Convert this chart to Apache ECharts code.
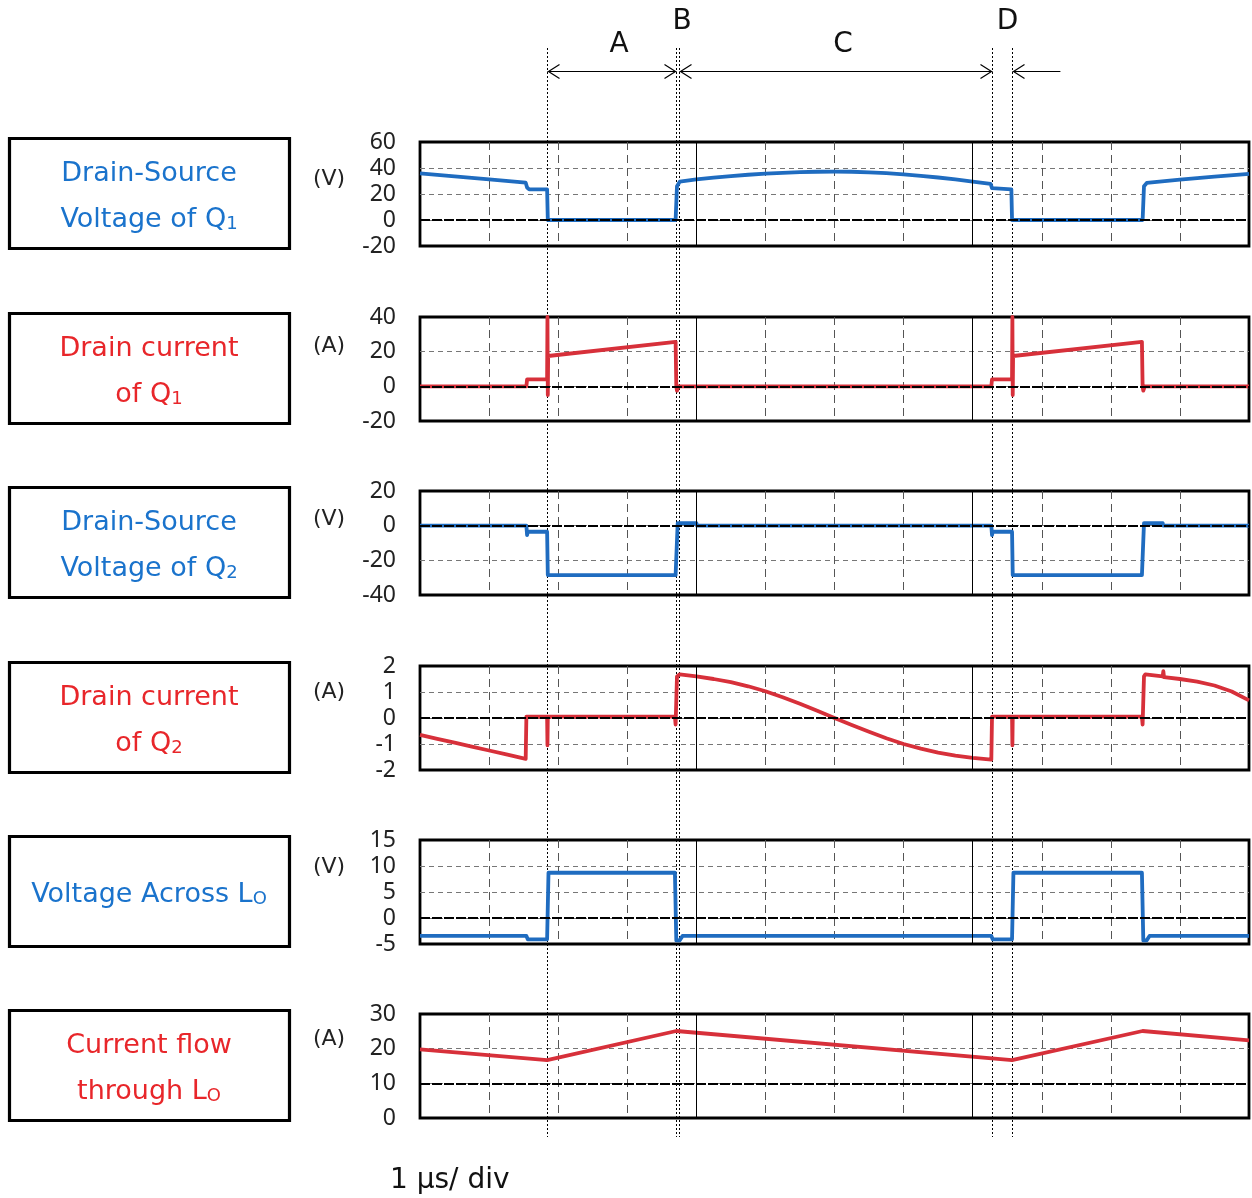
<!DOCTYPE html>
<html><head><meta charset="utf-8">
<script src="https://cdn.jsdelivr.net/npm/echarts@6/dist/echarts.min.js"></script>
<style>html,body{margin:0;padding:0;background:#fff}#c{width:1252px;height:1198px}</style>
</head><body><div id="c"></div>
<script>
// ---- data (time in µs, 1 µs/div) ----
const vdsQ1 = [[0,35.9],[0.5,33.6],[1.0,31.3],[1.53,28.7],[1.55,25],[1.58,23.6],[1.84,23.6],[1.85,0],[3.70,0],[3.72,26],[3.76,29.5],[4.0,31.2],[4.25,32.6],[4.5,33.8],[4.75,34.8],[5.0,35.6],[5.25,36.3],[5.5,36.8],[5.75,37.1],[6.0,37.2],[6.25,37.1],[6.5,36.7],[6.75,36],[7.0,35.1],[7.25,34],[7.5,32.7],[7.75,31.2],[8.0,29.6],[8.26,27.8],[8.28,24.5],[8.30,23.6],[8.56,23.6],[8.57,0],[10.46,0],[10.48,26],[10.52,28.5],[11.0,31],[11.5,33.3],[12,35.4]];
const idQ1 = [[0,0],[1.54,0],[1.55,4],[1.84,4],[1.845,40],[1.85,-5],[1.855,17.5],[3.70,25.7],[3.71,0],[3.72,-2.5],[3.74,0],[8.27,0],[8.28,4],[8.57,4],[8.575,40],[8.58,-5],[8.585,17.5],[10.45,25.7],[10.46,0],[10.47,-2.5],[10.49,0],[12,0]];
const vdsQ2 = [[0,0],[1.54,0],[1.55,-5.5],[1.56,-3.5],[1.84,-3.5],[1.85,-28.5],[3.70,-28.5],[3.73,1.5],[4.0,1.5],[4.01,0],[8.27,0],[8.28,-5.5],[8.29,-3.5],[8.57,-3.5],[8.58,-28.5],[10.45,-28.5],[10.48,1.5],[10.75,1.5],[10.76,0],[12,0]];
const idQ2 = [[0,-0.65],[0.25,-0.8],[0.5,-0.95],[0.75,-1.1],[1.0,-1.25],[1.25,-1.4],[1.53,-1.57],[1.54,0.05],[1.84,0.05],[1.845,-1.05],[1.85,0.05],[3.69,0.05],[3.70,-0.25],[3.72,1.6],[3.76,1.68],[4.0,1.6],[4.25,1.5],[4.5,1.38],[4.75,1.22],[5.0,1.03],[5.25,0.8],[5.5,0.55],[5.75,0.28],[6.0,0.0],[6.25,-0.27],[6.5,-0.53],[6.75,-0.78],[7.0,-1.0],[7.25,-1.18],[7.5,-1.33],[7.75,-1.45],[8.0,-1.53],[8.27,-1.6],[8.28,0.05],[8.57,0.05],[8.575,-1.05],[8.58,0.05],[10.45,0.05],[10.46,-0.25],[10.48,1.6],[10.5,1.68],[10.75,1.6],[10.76,1.8],[10.77,1.57],[11.0,1.5],[11.25,1.4],[11.5,1.25],[11.75,1.02],[12,0.68]];
const vLo = [[0,-3.45],[1.54,-3.45],[1.56,-4.1],[1.84,-4.1],[1.86,8.7],[3.69,8.7],[3.71,-4.3],[3.76,-4.3],[3.80,-3.45],[8.27,-3.45],[8.29,-4.1],[8.57,-4.1],[8.59,8.7],[10.45,8.7],[10.47,-4.3],[10.52,-4.3],[10.56,-3.45],[12,-3.45]];
const iLo = [[0,19.8],[1.84,16.7],[3.71,25.1],[8.57,16.7],[10.46,25.1],[12,22.4]];

const yMin = [-20,-20,-40,-2,-5,0];
const yMax = [60,40,20,2,15,30];
const yStep = [20,20,20,1,5,10];
const refLevel = [0,0,0,0,0,10];
const units = ['(V)','(A)','(V)','(A)','(V)','(A)'];
const labelLines = [
  [['Drain-Source',''],['Voltage of Q','1']],
  [['Drain current',''],['of Q','1']],
  [['Drain-Source',''],['Voltage of Q','2']],
  [['Drain current',''],['of Q','2']],
  [['Voltage Across L','O']],
  [['Current flow',''],['through L','O']]
];
const eventTimes = [1.84, 3.70, 3.75, 8.28, 8.57];
const spanLabels = ['A','B','C','D'];
const timeBaseLabel = '1 µs/ div';

// ---- layout / styles ----
const BLUE='#1f6cc0', RED='#d7303a', TBLUE='#1a73cc', TRED='#e8262a';
const kinds = ['b','r','b','r','b','r'];
const seriesData = [vdsQ1,idQ1,vdsQ2,idQ2,vLo,iLo];
const tops = [142,317,491,666,840,1014];
const unitOff = [37,29,28,26,27,25];
const FONT = 'DejaVu Sans';
const GL = 420, GW = 829, GH = 104;

const grid=[], xAxis=[], yAxis=[], series=[];
for (let i=0;i<6;i++){
  grid.push({left:GL, top:tops[i], width:GW, height:GH, show:true, borderColor:'#000', borderWidth:2.8, backgroundColor:'transparent'});
  xAxis.push({gridIndex:i, type:'value', min:0, max:12, interval:1,
    axisLine:{show:false}, axisTick:{show:false}, axisLabel:{show:false},
    splitLine:{show:true, showMinLine:false, showMaxLine:false, lineStyle:{color:'#555', type:[8,5], width:1}}});
  yAxis.push({gridIndex:i, type:'value', min:yMin[i], max:yMax[i], interval:yStep[i],
    axisLine:{show:false}, axisTick:{show:false},
    axisLabel:{fontSize:23, color:'#222', margin:24, fontFamily:'Noto Sans', showMinLabel:true, showMaxLabel:true},
    splitLine:{show:true, showMinLine:false, showMaxLine:false, lineStyle:{color:'#777', type:[5,4], width:1.2}}});
  series.push({type:'line', xAxisIndex:i, yAxisIndex:i, data:[], z:1, silent:true, animation:false,
    markLine:{silent:true, symbol:'none', animation:false, label:{show:false},
      data:[
        {yAxis:refLevel[i], lineStyle:{color:'#000', width:2, type:[10,2]}},
        {xAxis:4, lineStyle:{color:'#000', width:1, type:'solid'}},
        {xAxis:8, lineStyle:{color:'#000', width:1, type:'solid'}}
      ]}});
  series.push({type:'line', xAxisIndex:i, yAxisIndex:i, data:seriesData[i], showSymbol:false, z:3, animation:false,
    lineStyle:{color:kinds[i]==='b'?BLUE:RED, width:3.8, join:'round'}});
}

const chart = echarts.init(document.getElementById('c'));
chart.setOption({animation:false, grid, xAxis, yAxis, series});

const px = t => chart.convertToPixel({xAxisIndex:0}, t);
const g = [];
for (let i=0;i<6;i++){
  const top = tops[i];
  const col = kinds[i]==='b'?TBLUE:TRED;
  g.push({type:'rect', shape:{x:9.5, y:top-3.5, width:280, height:110}, style:{fill:'none', stroke:'#000', lineWidth:3.2}, silent:true});
  const lines = labelLines[i];
  const centers = lines.length===1 ? [top+55] : [top+32, top+78];
  lines.forEach((ln,k)=>{
    const txt = ln[1] ? '{m|'+ln[0]+'}{s|'+ln[1]+'}' : '{m|'+ln[0]+'}';
    g.push({type:'text', x:149, y:centers[k], silent:true,
      style:{text:txt, align:'center', verticalAlign:'middle',
        rich:{m:{fontSize:27, fontFamily:FONT, fill:col},
              s:{fontSize:18, fontFamily:FONT, fill:col, verticalAlign:'bottom'}}}});
  });
  g.push({type:'text', x:329, y:top+unitOff[i], silent:true,
    style:{text:units[i], align:'center', verticalAlign:'middle', fontSize:22, fontFamily:FONT, fill:'#222'}});
}
const evx = eventTimes.map(t=>Math.round(px(t))+0.5);
evx.forEach(x=>g.push({type:'line', silent:true, shape:{x1:x,y1:48,x2:x,y2:1137},
  style:{stroke:'#000', lineWidth:1, lineDash:[2,2]}}));
const AY = 71.5, AH = 12, AW = 7;
function hline(x1,x2){ g.push({type:'line', silent:true, shape:{x1:x1,y1:AY,x2:x2,y2:AY}, style:{stroke:'#000', lineWidth:1.2}}); }
function headL(x){ g.push({type:'polyline', silent:true, shape:{points:[[x+AH,AY-AW],[x+1,AY],[x+AH,AY+AW]]}, style:{stroke:'#000', lineWidth:1.2, fill:'none'}}); }
function headR(x){ g.push({type:'polyline', silent:true, shape:{points:[[x-AH,AY-AW],[x-1,AY],[x-AH,AY+AW]]}, style:{stroke:'#000', lineWidth:1.2, fill:'none'}}); }
hline(evx[0],evx[1]); headL(evx[0]); headR(evx[1]);
hline(evx[2],evx[3]); headL(evx[2]); headR(evx[3]);
hline(evx[4], px(eventTimes[4]+0.7)); headL(evx[4]);
const lab = (t,x,y)=>g.push({type:'text', x:x, y:y, silent:true, style:{text:t, align:'center', verticalAlign:'middle', fontSize:28, fontFamily:FONT, fill:'#111'}});
lab(spanLabels[0], (evx[0]+evx[1])/2+7, 45);
lab(spanLabels[1], (evx[1]+evx[2])/2+4, 22);
lab(spanLabels[2], (evx[2]+evx[3])/2+7, 45);
lab(spanLabels[3], (evx[3]+evx[4])/2+5, 22);
g.push({type:'text', x:390, y:1181, silent:true, style:{text:timeBaseLabel, align:'left', verticalAlign:'middle', fontSize:28, fontFamily:FONT, fill:'#111'}});
chart.setOption({graphic:g});
</script>
</body></html>
